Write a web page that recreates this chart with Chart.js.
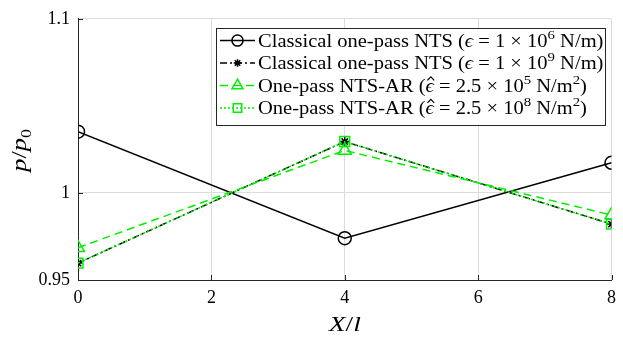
<!DOCTYPE html>
<html><head><meta charset="utf-8">
<script src="https://cdn.jsdelivr.net/npm/chart.js@4/dist/chart.umd.min.js"></script>
<style>html,body{margin:0;padding:0;background:#fff}#wrap{width:623px;height:341px}</style>
</head><body><div id="wrap"><canvas id="c" width="623" height="341"></canvas></div>
<script>
// ---- data ----
const xValues = [0, 4, 8];
const classical1e6 = [1.0352, 0.9740, 1.0173];
const classical1e9 = [0.9597, 1.0295, 0.9821];
const ar25e5 = [0.9685, 1.0244, 0.9873];
const ar25e8 = [0.9597, 1.0295, 0.9821];
const seriesLabels = [
  'Classical one-pass NTS (ϵ = 1 × 10^6 N/m)',
  'Classical one-pass NTS (ϵ = 1 × 10^9 N/m)',
  'One-pass NTS-AR (ϵ\u0302 = 2.5 × 10^5 N/m^2)',
  'One-pass NTS-AR (ϵ\u0302 = 2.5 × 10^8 N/m^2)'
];
const xTicks = [0, 2, 4, 6, 8];
const yTicks = [0.95, 1, 1.1];
const xTitle = 'X/l';
const yTitle = 'p/p_0';

const SERIF = '"Liberation Serif", "DejaVu Serif", serif';
const AXIS = '#262626';
const GREEN = '#00ee00';

function pts(ys) { return xValues.map((x, i) => ({x: x, y: ys[i]})); }

const styles = [
  {color: '#000', dash: [], marker: 'circle', r: 6.5},
  {color: '#000', dash: [7, 3, 2, 3], marker: 'star', r: 4.5},
  {color: GREEN, dash: [8, 5], marker: 'triangle', r: 7.5},
  {color: GREEN, dash: [2, 2], marker: 'rect', r: 7}
];
const seriesData = [classical1e6, classical1e9, ar25e5, ar25e8];

const datasets = seriesData.map((d, i) => ({
  label: seriesLabels[i],
  data: pts(d),
  borderColor: styles[i].color,
  backgroundColor: 'rgba(0,0,0,0)',
  borderWidth: 1.5,
  borderDash: styles[i].dash,
  pointStyle: styles[i].marker,
  pointRadius: styles[i].r,
  pointHoverRadius: styles[i].r,
  pointBorderColor: styles[i].color,
  pointBackgroundColor: 'rgba(0,0,0,0)',
  pointBorderWidth: 1.5,
  tension: 0,
  order: 4 - i
}));

// rich text: ^x superscript, _x subscript, greek italic, \u0302 hat
function parseRich(s, italicLatin) {
  const runs = [];
  for (let i = 0; i < s.length; i++) {
    const ch = s[i];
    if (ch === '^' || ch === '_') { runs.push({t: s[i + 1], mode: ch === '^' ? 'sup' : 'sub', it: false}); i++; continue; }
    if (ch === '\u0302') { if (runs.length) runs[runs.length - 1].hat = true; continue; }
    const greek = /[\u0370-\u03ff]/.test(ch);
    const it = greek || (italicLatin && /[A-Za-z]/.test(ch));
    runs.push({t: ch, mode: 'n', it: it});
  }
  return runs;
}
function richFont(r, size) {
  const sz = r.mode === 'n' ? size : Math.round(size * 0.7);
  return (r.it ? 'italic ' : '') + sz + 'px ' + SERIF;
}
function richWidth(ctx, runs, size) {
  let w = 0;
  runs.forEach(r => { ctx.font = richFont(r, size); w += ctx.measureText(r.t).width; });
  return w;
}
function drawRich(ctx, runs, x, y, size, color) {
  ctx.fillStyle = color; ctx.strokeStyle = color;
  ctx.textBaseline = 'alphabetic'; ctx.textAlign = 'left';
  runs.forEach(r => {
    ctx.font = richFont(r, size);
    const dy = r.mode === 'sup' ? -size * 0.42 : (r.mode === 'sub' ? size * 0.22 : 0);
    ctx.fillText(r.t, x, y + dy);
    const w = ctx.measureText(r.t).width;
    if (r.hat) {
      const cx = x + w / 2 + 1, top = y - size * 0.62;
      ctx.save(); ctx.lineWidth = 1; ctx.setLineDash([]);
      ctx.beginPath(); ctx.moveTo(cx - 3, top); ctx.lineTo(cx, top - 3.5); ctx.lineTo(cx + 3, top); ctx.stroke();
      ctx.restore();
    }
    x += w;
  });
  return x;
}

function drawMarker(ctx, style, x, y, r, color) {
  ctx.save(); ctx.setLineDash([]); ctx.strokeStyle = color; ctx.lineWidth = 1.5;
  ctx.beginPath();
  if (style === 'circle') { ctx.arc(x, y, r, 0, Math.PI * 2); }
  else if (style === 'star') {
    for (let k = 0; k < 4; k++) { const a = k * Math.PI / 4; ctx.moveTo(x - Math.cos(a) * r, y - Math.sin(a) * r); ctx.lineTo(x + Math.cos(a) * r, y + Math.sin(a) * r); }
  } else if (style === 'triangle') {
    let a = 0;
    ctx.moveTo(x + Math.sin(a) * r, y - Math.cos(a) * r);
    a += 2 * Math.PI / 3; ctx.lineTo(x + Math.sin(a) * r, y - Math.cos(a) * r);
    a += 2 * Math.PI / 3; ctx.lineTo(x + Math.sin(a) * r, y - Math.cos(a) * r);
    ctx.closePath();
  } else if (style === 'rect') { const s = r * Math.SQRT1_2; ctx.rect(x - s, y - s, 2 * s, 2 * s); }
  ctx.stroke(); ctx.restore();
}

const decor = {
  id: 'decor',
  afterDraw(chart) {
    const ctx = chart.ctx, xs = chart.scales.x, ys = chart.scales.y, ca = chart.chartArea;
    ctx.save();
    // inward ticks
    ctx.strokeStyle = AXIS; ctx.lineWidth = 1; ctx.setLineDash([]);
    ctx.beginPath();
    xTicks.forEach(v => { const px = Math.round(xs.getPixelForValue(v)) + 0.5; ctx.moveTo(px, ca.bottom); ctx.lineTo(px, ca.bottom - 5); });
    yTicks.forEach(v => { const py = Math.round(ys.getPixelForValue(v)) + 0.5; ctx.moveTo(ca.left, py); ctx.lineTo(ca.left + 5, py); });
    ctx.stroke();
    // axis titles (slightly widened to mimic Computer Modern)
    const xr = parseRich(xTitle, true);
    const xw = richWidth(ctx, xr, 22) * 1.25;
    ctx.save(); ctx.translate((ca.left + ca.right) / 2 - xw / 2, 331); ctx.scale(1.25, 1);
    drawRich(ctx, xr, 0, 0, 22, '#000');
    ctx.restore();
    const yr = parseRich(yTitle, true);
    const yw = richWidth(ctx, yr, 22) * 1.2;
    ctx.save(); ctx.translate(26, (ca.top + ca.bottom) / 2 + 1); ctx.rotate(-Math.PI / 2); ctx.scale(1.2, 1);
    drawRich(ctx, yr, -yw / 2 / 1.2, 0, 22, '#000');
    ctx.restore();
    // legend
    const bx = 216.5, by = 28.5, bw = 389, bh = 97;
    ctx.fillStyle = '#fff'; ctx.fillRect(bx, by, bw, bh);
    ctx.strokeStyle = AXIS; ctx.lineWidth = 1; ctx.strokeRect(bx, by, bw, bh);
    seriesLabels.forEach((lab, i) => {
      const cy = by + 12 + i * 22.5;
      const st = styles[i];
      ctx.save(); ctx.strokeStyle = st.color; ctx.lineWidth = 1.5; ctx.setLineDash(st.dash);
      ctx.beginPath(); ctx.moveTo(220, cy); ctx.lineTo(255, cy); ctx.stroke(); ctx.restore();
      drawMarker(ctx, st.marker, 237.5, cy, st.r * 0.85, st.color);
      ctx.save(); ctx.translate(258, cy + 6); ctx.scale(1.14, 1);
      drawRich(ctx, parseRich(lab, false), 0, 0, 18, '#000');
      ctx.restore();
    });
    ctx.restore();
  }
};

new Chart(document.getElementById('c'), {
  type: 'line',
  data: {datasets: datasets},
  options: {
    responsive: false, animation: false,
    layout: {padding: {left: 0, right: 5, top: 17, bottom: 0}},
    plugins: {legend: {display: false}, tooltip: {enabled: false}},
    scales: {
      x: {
        type: 'linear', min: 0, max: 8,
        afterBuildTicks: s => { s.ticks = xTicks.map(v => ({value: v})); },
        afterFit: s => { s.height = 61; },
        grid: {color: '#dcdcdc', drawTicks: false, lineWidth: 1},
        border: {display: true, color: AXIS, width: 1},
        ticks: {font: {family: SERIF, size: 18}, color: '#000', padding: 7, maxRotation: 0}
      },
      y: {
        type: 'linear', min: 0.95, max: 1.1,
        afterBuildTicks: s => { s.ticks = yTicks.map(v => ({value: v})); },
        afterFit: s => { s.width = 78; },
        grid: {color: '#dcdcdc', drawTicks: false, lineWidth: 1},
        border: {display: true, color: AXIS, width: 1},
        ticks: {font: {family: SERIF, size: 18}, color: '#000', padding: 8, callback: v => String(v)}
      }
    }
  },
  plugins: [decor]
});
</script></body></html>
